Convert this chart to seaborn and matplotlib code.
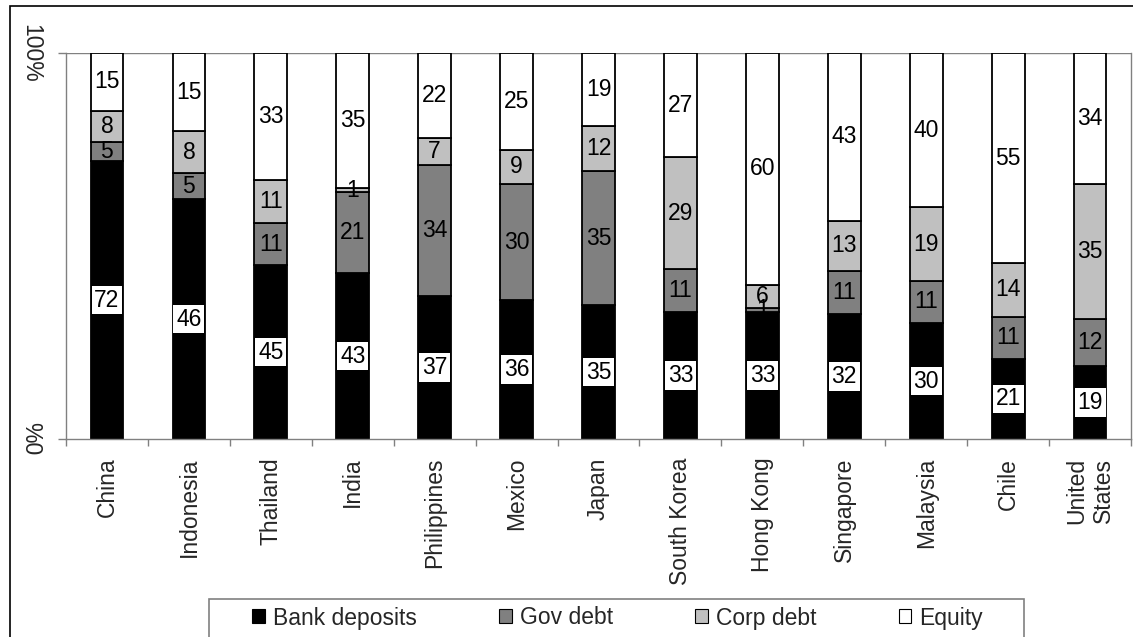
import numpy as np
import matplotlib
matplotlib.use("Agg")
import matplotlib.pyplot as plt
import seaborn as sns
from matplotlib.patches import Rectangle, Patch

countries = ["China", "Indonesia", "Thailand", "India", "Philippines", "Mexico",
             "Japan", "South Korea", "Hong Kong", "Singapore", "Malaysia", "Chile",
             "United\nStates"]
bank = [72, 46, 45, 43, 37, 36, 35, 33, 33, 32, 30, 21, 19]
gov = [5, 5, 11, 21, 34, 30, 35, 11, 1, 11, 11, 11, 12]
corp = [8, 8, 11, 1, 7, 9, 12, 29, 6, 13, 19, 14, 35]
equity = [15, 15, 33, 35, 22, 25, 19, 27, 60, 43, 40, 55, 34]
series_names = ["Bank deposits", "Gov debt", "Corp debt", "Equity"]
series_colors = ["#000000", "#808080", "#C0C0C0", "#FFFFFF"]
ytick_labels = ["%0", "100%"]

sns.set_style("white")
plt.rcParams["font.family"] = ["Liberation Sans", "DejaVu Sans"]
FS = 16.5
GRAY = "#808080"

W, H = 1133, 637
fig = plt.figure(figsize=(W / 100, H / 100), dpi=100)
ax = fig.add_axes([66 / W, 1 - 439 / H, (1131 - 66) / W, (439 - 53) / H])

values = np.array([bank, gov, corp, equity], dtype=float)
shares = values / values.sum(axis=0)
bottoms = np.vstack([np.zeros(len(countries)), np.cumsum(shares, axis=0)[:-1]])

for k, (name, color) in enumerate(zip(series_names, series_colors)):
    sns.barplot(x=countries, y=shares[k], bottom=bottoms[k], color=color,
                saturation=1, edgecolor="black", linewidth=1.3, width=0.4,
                errorbar=None, order=countries, ax=ax)

for k, cont in enumerate(ax.containers):
    labels = [str(v) for v in values[k].astype(int)]
    kw = {}
    if k == 0:
        kw["bbox"] = dict(boxstyle="square,pad=0.12", fc="white", ec="none")
    ax.bar_label(cont, labels=labels, label_type="center", fontsize=FS,
                 color="black", **kw)

ax.set_xlim(-0.5, len(countries) - 0.5)
ax.set_ylim(0, 1)
ax.spines["top"].set_visible(False)
for s in ["left", "bottom", "right"]:
    ax.spines[s].set_color(GRAY)
    ax.spines[s].set_linewidth(1.0)
ax.axhline(1, color=GRAY, lw=1.0, zorder=0)

ax.set_yticks([0, 1])
ax.set_yticklabels(ytick_labels, rotation=270, va="center", fontsize=FS)
ax.tick_params(axis="y", left=True, length=6, width=1, color=GRAY, pad=11)

ax.set_xticks(range(len(countries)))
ax.set_xticklabels(countries, rotation=90, fontsize=FS)
ax.tick_params(axis="x", which="major", length=0, pad=13.5)
ax.set_xticks(np.arange(-0.5, len(countries), 1), minor=True)
ax.tick_params(axis="x", which="minor", bottom=True, length=5, width=1, color=GRAY)
ax.set_xlabel("")
ax.set_ylabel("")

handles = [Patch(facecolor=c, edgecolor="black", linewidth=0.8) for c in series_colors]
fig.legend(handles, series_names, loc="center left",
           bbox_to_anchor=(252 / W, 1 - 618 / H), ncol=4, frameon=False,
           fontsize=FS, handlelength=0.55, handleheight=0.55,
           handletextpad=0.35, columnspacing=3.6, borderpad=0, borderaxespad=0)
fig.add_artist(Rectangle((209 / W, -0.05), (1024 - 209) / W, 1 - 599 / H + 0.05,
                         transform=fig.transFigure, fill=False,
                         edgecolor=GRAY, lw=1.2))
fig.add_artist(Rectangle((10 / W, -0.05), 1.2, 1 - 6 / H + 0.05,
                         transform=fig.transFigure, fill=False,
                         edgecolor="black", lw=1.2))

fig.savefig("out.png", dpi=100)
